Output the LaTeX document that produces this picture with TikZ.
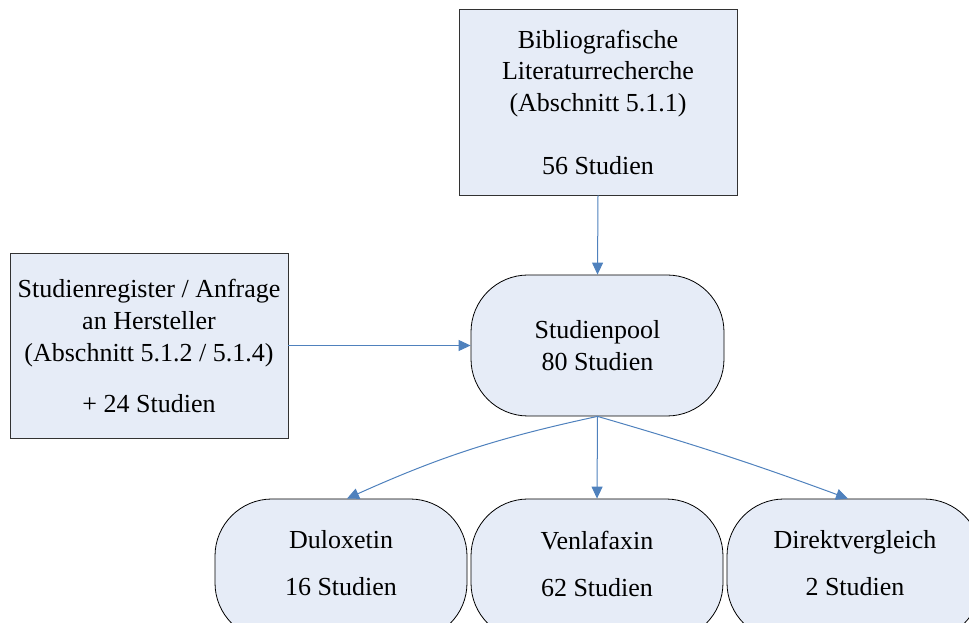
\documentclass[tikz,border=0pt]{standalone}
\usepackage{fontspec}
\setmainfont{Liberation Serif}
\usetikzlibrary{arrows.meta}
\definecolor{boxfill}{RGB}{230,236,247}
\definecolor{boxline}{RGB}{50,50,50}
\definecolor{arrowblue}{RGB}{79,129,189}
\tikzset{
  txt/.style={font=\fontsize{26}{31.5}\selectfont, align=center},
  rectbox/.style={txt, draw=boxline, line width=0.8pt, fill=boxfill, inner sep=0pt},
  roundbox/.style={draw=black, line width=0.8pt, fill=boxfill, rounded corners=57pt, inner sep=0pt, minimum height=141pt},
  flow/.style={draw=arrowblue, line width=1pt, -{Triangle[length=12pt,width=11pt]}},
}
\begin{document}
\begin{tikzpicture}[x=1pt,y=1pt]
\useasboundingbox (0,0) rectangle (969,623);
\clip (0,0) rectangle (969,623);
\node[rectbox, minimum width=278pt, minimum height=186pt] (top) at (598,521)
  {Bibliografische\\Literaturrecherche\\(Abschnitt 5.1.1)\\[31.5pt]56 Studien};
\node[rectbox, minimum width=278pt, minimum height=185pt] (left) at (149,277.5)
  {Studienregister / Anfrage\\[1pt]an Hersteller\\[0.5pt](Abschnitt 5.1.2 / 5.1.4)\\[19pt]+ 24 Studien};
\node[roundbox, txt, minimum width=253pt] (pool) at (597.5,277.5)
  {Studienpool\\[0.5pt]80 Studien};
\node[roundbox, minimum width=252pt,
  label={[name=dultxt, txt, yshift=6pt]center:Duloxetin\\[15.5pt]16 Studien}] (dul) at (341,53.5) {};
\node[roundbox, minimum width=252pt,
  label={[name=ventxt, txt, yshift=6pt]center:Venlafaxin\\[15.5pt]62 Studien}] (ven) at (597,53.5) {};
\node[roundbox, minimum width=254pt,
  label={[name=dirtxt, txt, yshift=6pt, xshift=1pt]center:Direktvergleich\\[15.5pt]2 Studien}] (dir) at (854,53.5) {};
\draw[flow] (top.south) -- (pool.north);
\draw[flow] (left.east) -- (pool.west);
\draw[flow] (pool.south) to[bend right=6] ([xshift=6pt]dul.north);
\draw[flow] (pool.south) -- (ven.north);
\draw[flow] (pool.south) to[bend left=2] ([xshift=-6pt]dir.north);
\end{tikzpicture}
\end{document}
